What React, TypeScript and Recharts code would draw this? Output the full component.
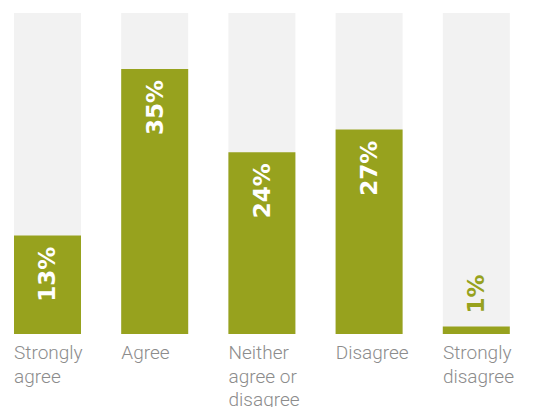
import { BarChart, Bar, XAxis, YAxis, LabelList } from 'recharts'

const categories = ['Strongly agree', 'Agree', 'Neither agree or disagree', 'Disagree', 'Strongly disagree']
const tickLines = [['Strongly', 'agree'], ['Agree'], ['Neither', 'agree or', 'disagree'], ['Disagree'], ['Strongly', 'disagree']]
const shares = [13, 35, 24, 27, 1]

const GREEN = '#97a21e'
const TRACK = '#f2f2f2'
const BAR_W = 67

const data = categories.map((name, i) => ({ name, value: shares[i], lines: tickLines[i] }))

function CategoryTick({ x, y, index }: any) {
  const lines = tickLines[index] ?? []
  return (
    <text
      x={x - BAR_W / 2}
      y={y + 25}
      fill="#8c8c8c"
      fontSize={19}
      fontFamily="Roboto, sans-serif"
      fontWeight={300}
      textAnchor="start"
    >
      {lines.map((l, i) => (
        <tspan key={i} x={x - BAR_W / 2} dy={i === 0 ? 0 : 23.5}>{l}</tspan>
      ))}
    </text>
  )
}

function ValueLabel({ x, y, width, value }: any) {
  const cx = x + width / 2
  const inside = value >= 5
  const ty = inside ? y + 11 : y - 13
  return (
    <text
      x={cx}
      y={ty}
      transform={`rotate(-90, ${cx}, ${ty})`}
      textAnchor={inside ? 'end' : 'start'}
      dominantBaseline="central"
      fill={inside ? '#fff' : GREEN}
      fontSize={23}
      fontWeight="bold"
      fontFamily="'DejaVu Sans', sans-serif"
    >
      {value}%
    </text>
  )
}

export default function App() {
  return (
    <div style={{ position: 'absolute', left: 0, top: 0, width: 546, height: 407, overflow: 'hidden', background: '#fff' }}>
      <div style={{ marginLeft: -6 }}>
        <BarChart width={536} height={407} data={data} margin={{ top: 13, right: 0, bottom: 0, left: 0 }}>
          <XAxis
            dataKey="name"
            axisLine={false}
            tickLine={false}
            tickSize={0}
            tickMargin={0}
            height={73}
            interval={0}
            tick={<CategoryTick />}
          />
          <YAxis hide domain={[0, 42.4]} />
          <Bar dataKey="value" fill={GREEN} barSize={BAR_W} background={{ fill: TRACK }} isAnimationActive={false}>
            <LabelList dataKey="value" content={<ValueLabel />} />
          </Bar>
        </BarChart>
      </div>
    </div>
  )
}
